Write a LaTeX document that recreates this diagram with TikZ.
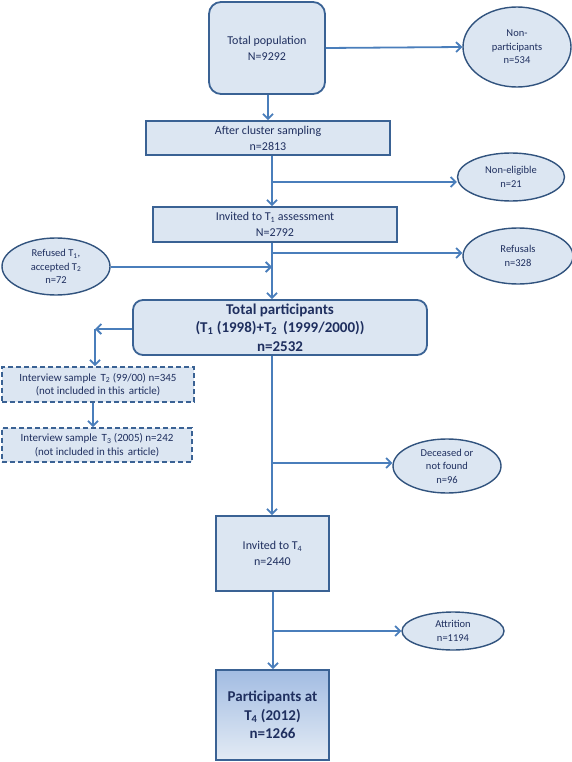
\documentclass[tikz,border=0pt]{standalone}
\usepackage{fontspec}
\setmainfont{Carlito}
\usetikzlibrary{arrows.meta,shapes.geometric}
\definecolor{fillb}{HTML}{DCE6F2}
\definecolor{edgeb}{HTML}{3A6294}
\definecolor{arrb}{HTML}{4A7EBB}
\definecolor{txt}{HTML}{1F2F5F}
\definecolor{topb}{HTML}{A2BCE2}
\tikzset{
  box/.style={draw=edgeb, line width=1.8pt, fill=fillb, text=txt, align=center, inner sep=0pt,
    font=\fontsize{12}{16}\selectfont},
  rbox/.style={box, rounded corners=10pt},
  dbox/.style={box, dash pattern=on 5pt off 3pt, font=\fontsize{11}{13.5}\selectfont},
  ell/.style={ellipse, draw=edgeb!85!black, line width=1.4pt, fill=fillb, text=txt, align=center,
    inner sep=0pt, font=\fontsize{10.5}{13.5}\selectfont},
  bigtxt/.style={font=\fontsize{15}{18.5}\selectfont\bfseries},
  arr/.style={draw=arrb, line width=1.8pt, -{Straight Barb[length=5pt,width=10pt,line width=1.8pt]}},
}
\begin{document}
\begin{tikzpicture}[x=1pt,y=-1pt]
\useasboundingbox (0,0) rectangle (572,762);

\node[rbox, rounded corners=12pt, minimum width=116pt, minimum height=92pt] (pop) at (267,48) {Total population\\N=9292};
\node[ell, minimum width=108pt, minimum height=80pt] (nonp) at (517,47) {Non-\\participants\\n=534};
\node[box, minimum width=244pt, minimum height=34pt] (clus) at (268,138) {After cluster sampling\\n=2813};
\node[ell, minimum width=107pt, minimum height=48pt] (nonel) at (511,177) {Non-eligible\\n=21};
\node[box, minimum width=244pt, minimum height=35pt] (inv1) at (275,224.5) {Invited to T\textsubscript{1} assessment\\N=2792};
\node[ell, minimum width=110pt, minimum height=56pt] (refs) at (518,256) {Refusals\\n=328};
\node[ell, minimum width=108pt, minimum height=57pt] (reft) at (56,266.5) {Refused T\textsubscript{1},\\accepted T\textsubscript{2}\\n=72};
\node[rbox, bigtxt, minimum width=294pt, minimum height=55pt] (tot) at (280,327.5)
  {Total participants\\(T\textsubscript{1} (1998)+T\textsubscript{2}\, (1999/2000))\\n=2532};
\node[dbox, minimum width=192pt, minimum height=35pt] (int2) at (98,384.5)
  {Interview sample\, T\textsubscript{2} (99/00) n=345\\(not included in this\, article)};
\node[dbox, minimum width=190pt, minimum height=34pt] (int3) at (97,445)
  {Interview sample\, T\textsubscript{3} (2005) n=242\\(not included in this\, article)};
\node[ell, minimum width=108pt, minimum height=54pt] (dec) at (447,466) {Deceased or\\not found\\n=96};
\node[box, minimum width=113pt, minimum height=75pt] (inv4) at (272.5,553.5) {Invited to T\textsubscript{4}\\n=2440};
\node[ell, minimum width=102pt, minimum height=38pt] (att) at (453,631) {Attrition\\n=1194};
\node[box, bigtxt, top color=topb, bottom color=fillb!80!white, minimum width=113pt, minimum height=90pt] (fin) at (272.5,715)
  {Participants at\\T\textsubscript{4} (2012)\\n=1266};

% connectors
\coordinate (a0) at (268,0);
\draw[arr] (pop.south -| a0) -- (clus.north -| a0);
\draw[arr] (pop.east) -- (nonp.west);

\coordinate (b1) at (272,182);
\draw[arr] (clus.south -| b1) -- (inv1.north -| b1);
\draw[arr] (b1) -- (b1 -| nonel.west);

\coordinate (b2) at (272,253);
\coordinate (b3) at (272,267);
\draw[arr] (inv1.south -| b2) -- (tot.north -| b2);
\draw[arr] (b2) -- (b2 -| refs.west);
\draw[arr] (reft.east |- b3) -- (b3);

\coordinate (c1) at (95,329);
\draw[arr] (tot.west |- c1) -- (c1);
\draw[arr] (c1) -- (c1 |- int2.north);
\coordinate (c2) at (93,0);
\draw[arr] (int2.south -| c2) -- (int3.north -| c2);

\coordinate (b4) at (272,463);
\draw[arr] (tot.south -| b4) -- (inv4.north -| b4);
\draw[arr] (b4) -- (b4 -| dec.west);

\coordinate (b5) at (273,631);
\draw[arr] (inv4.south -| b5) -- (fin.north -| b5);
\draw[arr] (b5) -- (att.west);
\end{tikzpicture}
\end{document}
